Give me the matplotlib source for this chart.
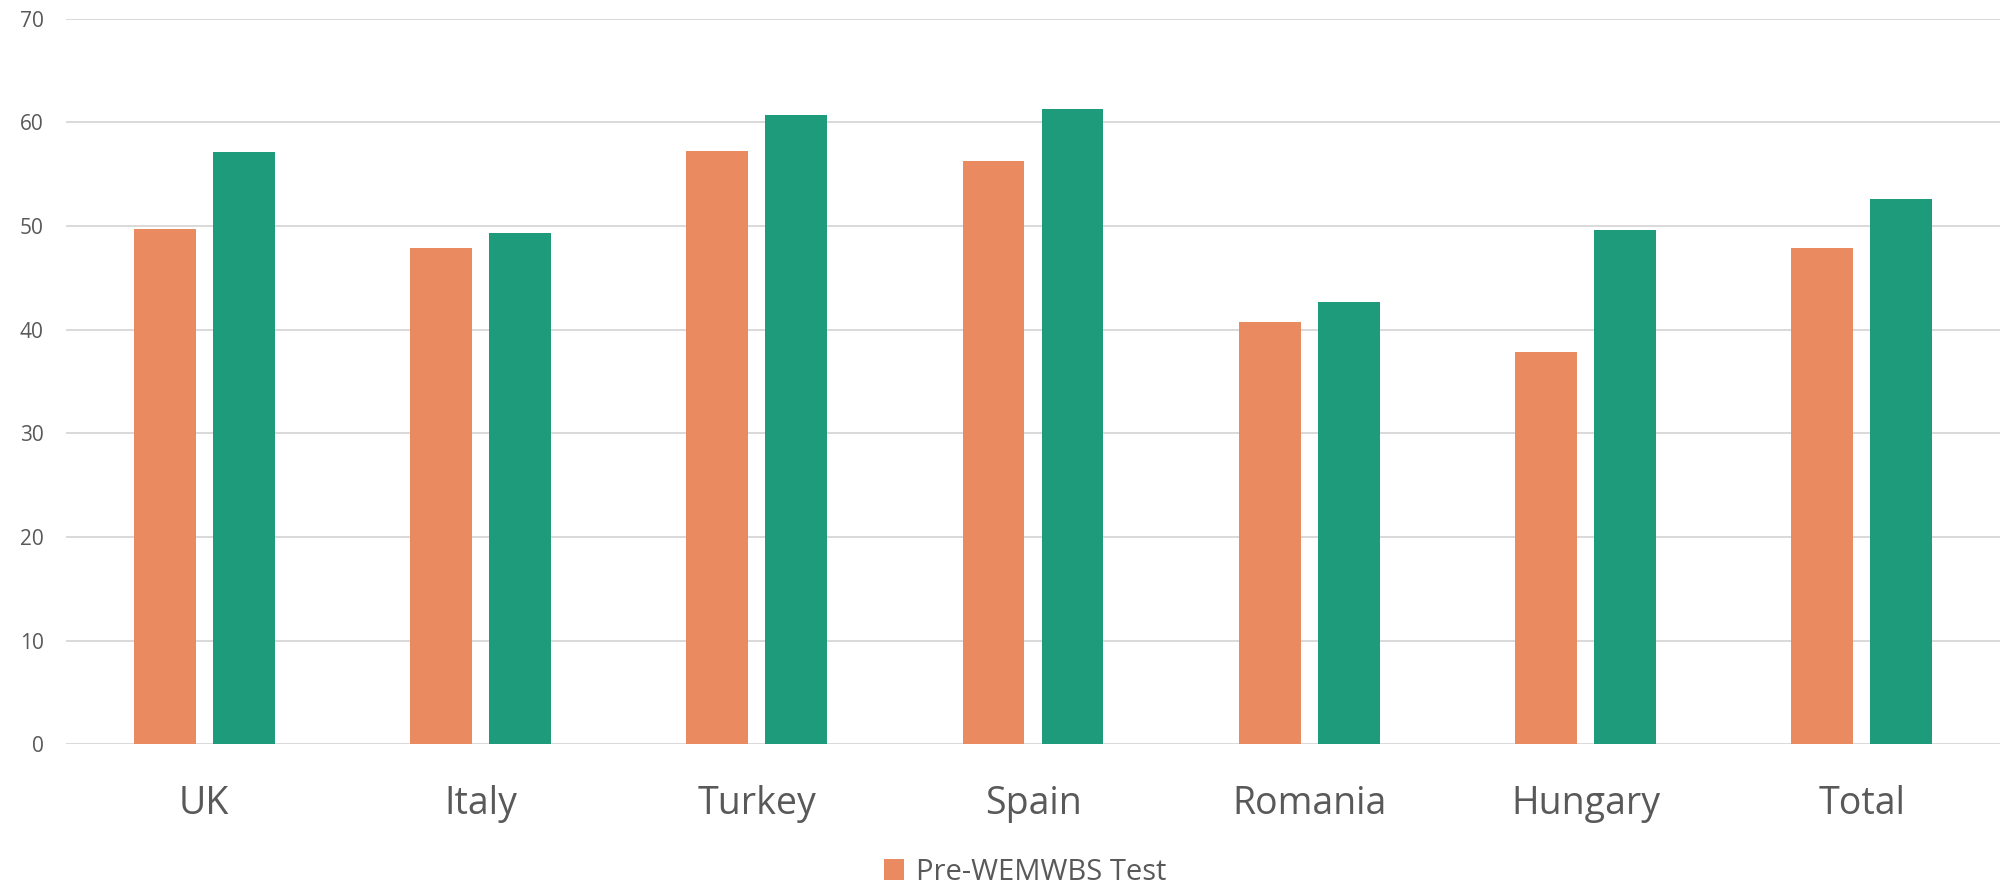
# Pre / post WEMWBS scores by country - grouped bar chart
import numpy as np
import matplotlib.pyplot as plt

plt.rcParams['font.family'] = ['Open Sans', 'DejaVu Sans']

countries = ["UK", "Italy", "Turkey", "Spain", "Romania", "Hungary", "Total"]
pre_scores = [49.7, 47.9, 57.2, 56.3, 40.7, 37.8, 47.9]
post_scores = [57.1, 49.3, 60.7, 61.3, 42.7, 49.6, 52.6]

orange = "#E98A60"
green = "#1E9B7B"
text_grey = "#595959"

fig = plt.figure(figsize=(20.08, 8.86), dpi=100)
ax = fig.add_axes([0.0329, 0.160, 0.9631, 0.819])

x = np.arange(len(countries))
bar_w = 0.224
offset = 0.143

ax.bar(x - offset, pre_scores, width=bar_w, color=orange, label="Pre-WEMWBS Test", zorder=3)
ax.bar(x + offset, post_scores, width=bar_w, color=green, label="Post-WEMWBS Test", zorder=3)

ax.set_xlim(-0.5, len(countries) - 0.5)
ax.set_ylim(0, 70)
ax.set_yticks(range(0, 71, 10))
ax.set_xticks(x)
ax.set_xticklabels(countries)

# gridlines and axes style
ax.grid(axis="y", color="#d9d9d9", linewidth=1.4, zorder=0)
for side in ["top", "right", "left", "bottom"]:
    ax.spines[side].set_visible(False)
ax.tick_params(axis="y", length=0, pad=16, labelsize=15, labelcolor=text_grey)
ax.tick_params(axis="x", length=0, pad=29, labelsize=27, labelcolor=text_grey)

# legend (only the pre-test entry is visible in the original)
handles, labels = ax.get_legend_handles_labels()
fig.legend(handles[:1], labels[:1], loc="center", bbox_to_anchor=(1025 / 2008, 1 - 872 / 886),
           frameon=False, fontsize=21, labelcolor=text_grey,
           handlelength=0.7, handleheight=0.7, handletextpad=0.4)

plt.savefig("out.png", dpi=100)
